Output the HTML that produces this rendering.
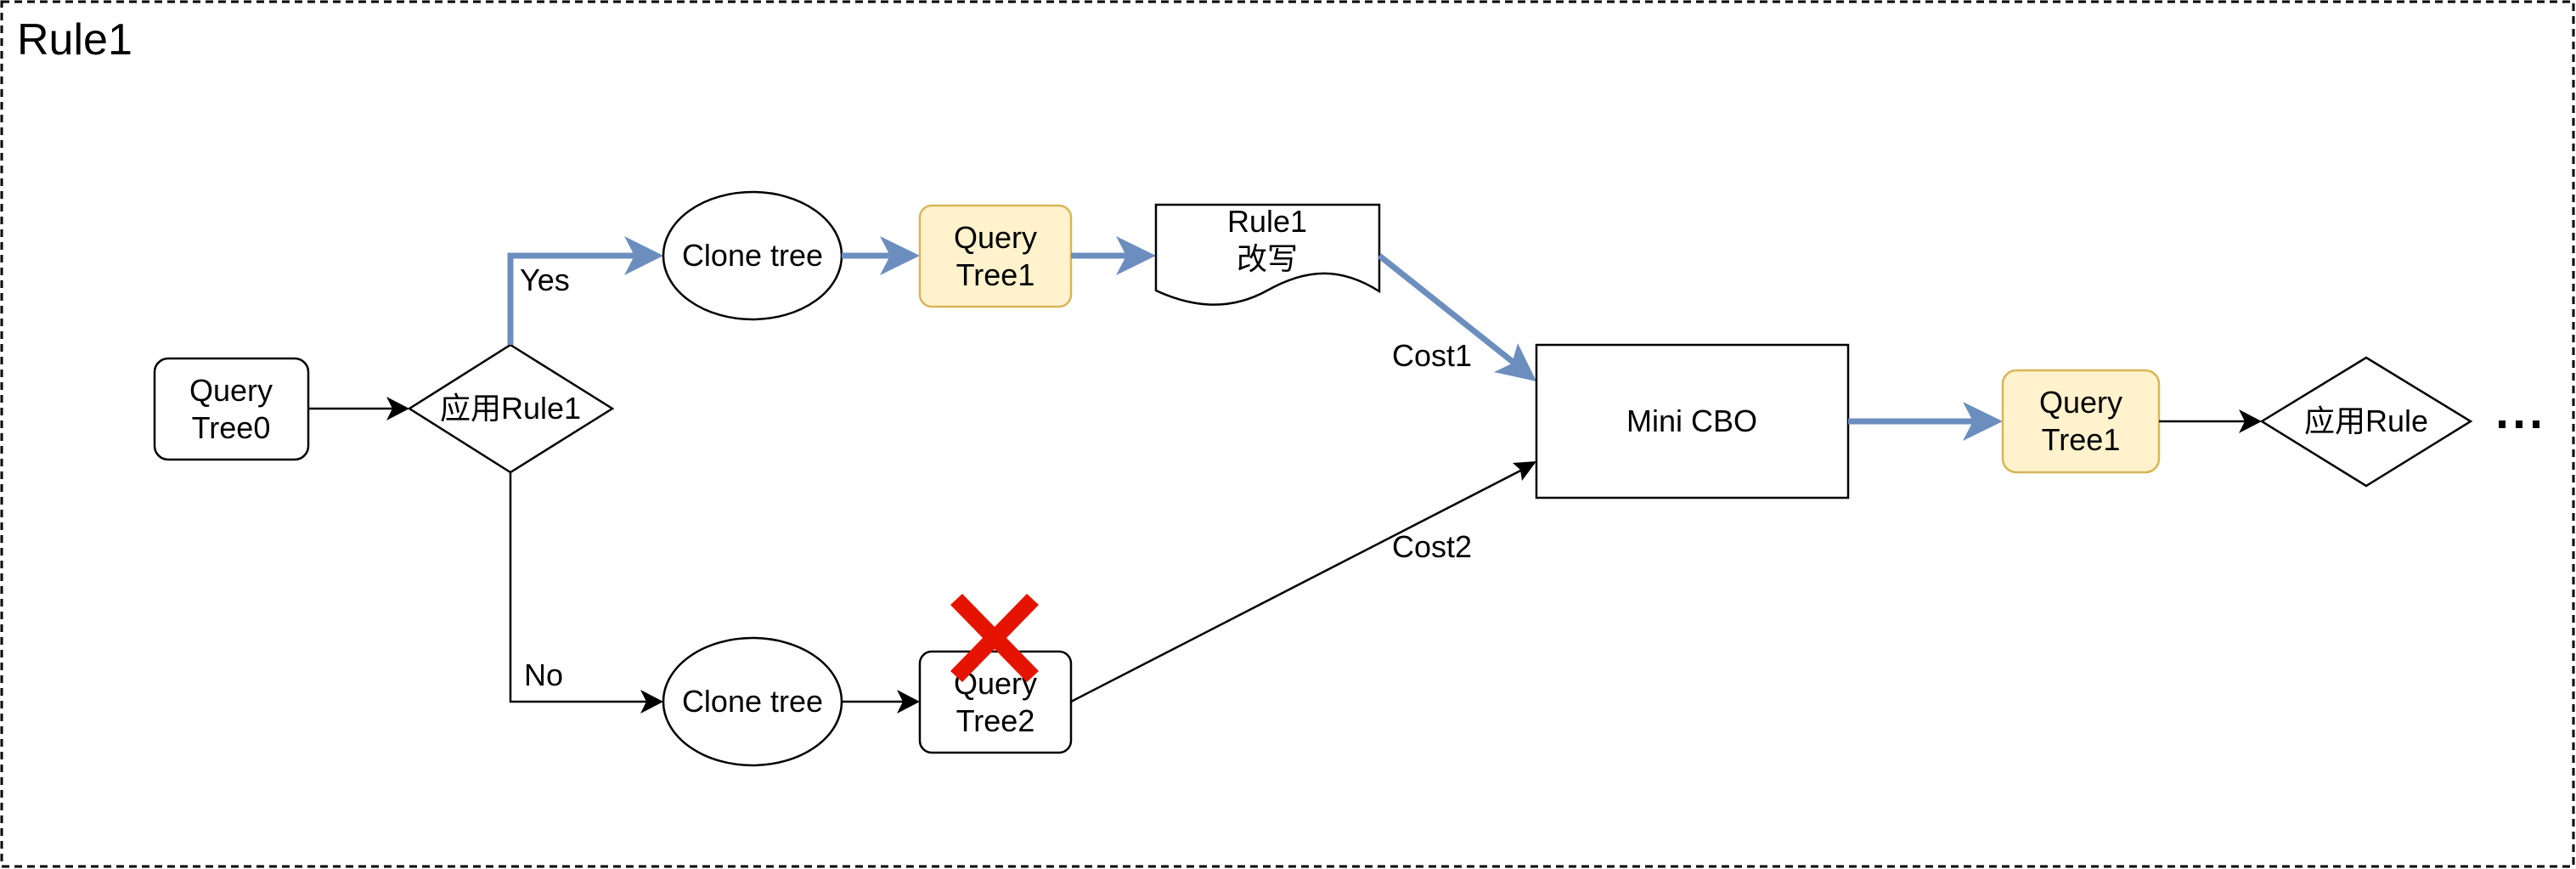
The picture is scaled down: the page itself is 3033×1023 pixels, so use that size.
<!DOCTYPE html>
<html><head><meta charset="utf-8"><style>
html,body{margin:0;padding:0;background:#fff;}
svg{display:block;}
text{font-family:"Liberation Sans","Noto Sans CJK SC",sans-serif;font-size:36px;fill:#000;}
</style></head><body>
<svg width="3033" height="1023" viewBox="0 0 3033 1023" xmlns="http://www.w3.org/2000/svg">
<rect x="2" y="2" width="3028" height="1018" fill="#fff" stroke="#000" stroke-width="3" stroke-dasharray="9,6"/>
<text x="20" y="64" style="font-size:52px">Rule1</text>

<rect x="182" y="422" width="181" height="119" rx="16" fill="#fff" stroke="#000" stroke-width="2.5"/>
<text x="272" y="472" text-anchor="middle">Query</text>
<text x="272" y="516" text-anchor="middle">Tree0</text>
<line x1="363" y1="481" x2="470" y2="481" stroke="#000" stroke-width="2.5"/>
<path d="M482 481 L455 467 L462 481 L455 495 Z" fill="#000"/>

<polygon points="601,406 721,481 601,556 482,481" fill="#fff" stroke="#000" stroke-width="2.5"/>
<text x="601" y="493" text-anchor="middle">应用Rule1</text>

<polyline points="601,406 601,301 760,301" fill="none" stroke="#6c8ebf" stroke-width="7"/>
<path d="M781 301 L735 278 L747 301 L735 324 Z" fill="#6c8ebf"/>
<text x="612" y="342">Yes</text>

<polyline points="601,556 601,826 768,826" fill="none" stroke="#000" stroke-width="2.5"/>
<path d="M781 826 L754 812 L761 826 L754 840 Z" fill="#000"/>
<text x="617" y="807">No</text>

<ellipse cx="886" cy="301" rx="105" ry="75" fill="#fff" stroke="#000" stroke-width="2.5"/>
<text x="886" y="313" text-anchor="middle">Clone tree</text>
<line x1="991" y1="301" x2="1062" y2="301" stroke="#6c8ebf" stroke-width="7"/>
<path d="M1083 301 L1036 278 L1048 301 L1036 324 Z" fill="#6c8ebf"/>

<rect x="1083" y="242" width="178" height="119" rx="14" fill="#fff2cc" stroke="#d6b656" stroke-width="2.5"/>
<text x="1172" y="292" text-anchor="middle">Query</text>
<text x="1172" y="336" text-anchor="middle">Tree1</text>
<line x1="1261" y1="301" x2="1340" y2="301" stroke="#6c8ebf" stroke-width="7"/>
<path d="M1361 301 L1314 278 L1326 301 L1314 324 Z" fill="#6c8ebf"/>

<path d="M1361 241 L1624 241 L1624 343 C1580 315 1540 315 1492 342 C1445 368 1400 360 1361 342 Z" fill="#fff" stroke="#000" stroke-width="2.5"/>
<text x="1492" y="273" text-anchor="middle">Rule1</text>
<text x="1492" y="317" text-anchor="middle">改写</text>

<line x1="1624" y1="301" x2="1795" y2="437" stroke="#6c8ebf" stroke-width="7"/>
<path d="M1809 449 L1759 438 L1780 428 L1787 404 Z" fill="#6c8ebf"/>
<text x="1639" y="431">Cost1</text>

<ellipse cx="886" cy="826" rx="105" ry="75" fill="#fff" stroke="#000" stroke-width="2.5"/>
<text x="886" y="838" text-anchor="middle">Clone tree</text>
<line x1="991" y1="826" x2="1070" y2="826" stroke="#000" stroke-width="2.5"/>
<path d="M1083 826 L1056 812 L1063 826 L1056 840 Z" fill="#000"/>

<rect x="1083" y="767" width="178" height="119" rx="14" fill="#fff" stroke="#000" stroke-width="2.5"/>
<text x="1172" y="817" text-anchor="middle">Query</text>
<text x="1172" y="861" text-anchor="middle">Tree2</text>

<polygon fill="#e51400" points="1119,712 1133,699 1171,738 1209,699 1223,712 1185,751 1223,790 1209,803 1171,764 1133,803 1119,790 1157,751"/>

<line x1="1261" y1="826" x2="1800" y2="549" stroke="#000" stroke-width="2.5"/>
<path d="M1809 543 L1781 545 L1790 553 L1792 566 Z" fill="#000"/>
<text x="1639" y="656">Cost2</text>

<rect x="1809" y="406" width="367" height="180" fill="#fff" stroke="#000" stroke-width="2.5"/>
<text x="1992" y="508" text-anchor="middle">Mini CBO</text>

<line x1="2176" y1="496" x2="2336" y2="496" stroke="#6c8ebf" stroke-width="7"/>
<path d="M2358 496 L2311 473 L2323 496 L2311 519 Z" fill="#6c8ebf"/>

<rect x="2358" y="436" width="184" height="120" rx="16" fill="#fff2cc" stroke="#d6b656" stroke-width="2.5"/>
<text x="2450" y="486" text-anchor="middle">Query</text>
<text x="2450" y="530" text-anchor="middle">Tree1</text>
<line x1="2542" y1="496" x2="2650" y2="496" stroke="#000" stroke-width="2.5"/>
<path d="M2663 496 L2636 482 L2643 496 L2636 510 Z" fill="#000"/>

<polygon points="2786,421 2909,496 2786,572 2663,496" fill="#fff" stroke="#000" stroke-width="2.5"/>
<text x="2786" y="508" text-anchor="middle">应用Rule</text>
<rect x="2942" y="495" width="8" height="9" fill="#000"/>
<rect x="2962" y="495" width="8" height="9" fill="#000"/>
<rect x="2982" y="495" width="8" height="9" fill="#000"/>
</svg>
</body></html>
